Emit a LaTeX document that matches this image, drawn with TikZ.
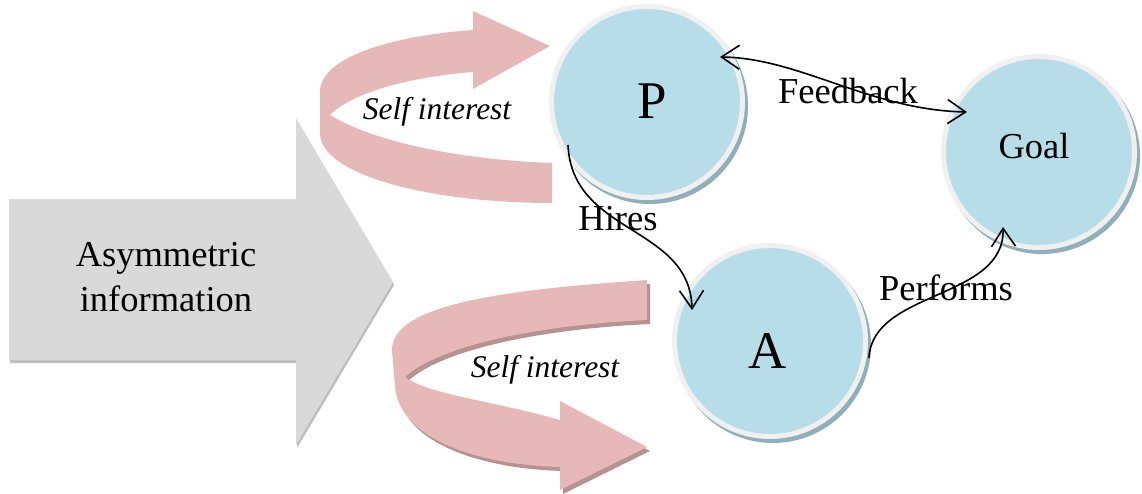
\documentclass[tikz,border=0pt]{standalone}
\usepackage{fontspec}
\setmainfont{Liberation Serif}
\usetikzlibrary{arrows.meta,calc}
\definecolor{ballblue}{HTML}{B7DDE8}
\definecolor{ballrim}{HTML}{F0F0F0}
\definecolor{ballshade}{HTML}{8FB0B9}
\definecolor{ribbon}{HTML}{E6B9B8}
\definecolor{ribbonshade}{HTML}{B79291}
\definecolor{infogrey}{HTML}{D9D9D9}
\definecolor{infoshade}{HTML}{BDBDBD}

\begin{document}
\begin{tikzpicture}[x=1pt,y=-1pt,
  ball/.style={circle, inner sep=0pt, minimum size=191pt, line width=5pt,
    draw=ballrim, fill=ballblue,
    preaction={draw=ballshade, fill=ballshade,
      transform canvas={xshift=3pt,yshift=-4pt}}},
  word/.style={font=\fontsize{36.5}{45}\selectfont, inner sep=0pt, anchor=base},
  letter/.style={font=\fontsize{53}{60}\selectfont, inner sep=0pt, anchor=base},
  motive/.style={font=\fontsize{31.5}{36}\selectfont\itshape, inner sep=0pt, anchor=base},
  barb/.tip={Straight Barb[length=18pt,width=24pt]},
  link/.style={line width=1.6pt, barb-barb},
  onelink/.style={line width=1.6pt, -barb}
]
\useasboundingbox (0,0) rectangle (1142,493);

% big grey block arrow
\fill[infoshade] (10,202) -- (297,202) -- (297,121) -- (394,285) -- (297,448)
  -- (297,363) -- (10,363) -- cycle;
\fill[infogrey] (9,199) -- (296,199) -- (296,118) -- (393,282) -- (296,445)
  -- (296,360) -- (9,360) -- cycle;
\node[font=\fontsize{36.5}{45}\selectfont, align=center, inner sep=0pt]
  (info) at (166,277) {Asymmetric\\information};

% upper U-turn ribbon (turns back to the right, towards P)
\fill[ribbon] (473,30) -- (473,11) -- (550,46) -- (473,89) -- (473,72)
  .. controls (400,78) and (350,95) .. (330,115)
  .. controls (380,145) and (470,160) .. (552,163)
  -- (552,203)
  .. controls (430,203) and (320,175) .. (320,133)
  -- (320,92)
  .. controls (320,55) and (400,35) .. (473,30) -- cycle;
\node[motive] (selfP) at (437,119) {Self interest};

% lower U-turn ribbon (turns back to the right, towards A)
\fill[ribbon, preaction={fill=ribbonshade, transform canvas={xshift=3pt,yshift=-4pt}}]
  (647,280) -- (647,320)
  .. controls (540,325) and (440,345) .. (405,377)
  .. controls (430,395) and (490,400) .. (560,420)
  -- (560,401) -- (647,447) -- (560,490) -- (560,467)
  .. controls (480,465) and (400,440) .. (395,387)
  -- (392,350)
  .. controls (392,305) and (500,290) .. (647,280) -- cycle;
\node[motive] (selfA) at (545,377) {Self interest};

% principal, agent and goal
\node[ball] (P) at (647,102) {};
\node[ball] (A) at (770,341) {};
\node[ball] (Goal) at (1039,152) {};
\node[letter] (Pname) at (652,118) {P};
\node[letter] (Aname) at (768,368) {A};
\node[word] (Goalname) at (1034,158) {Goal};

% relations
\draw[link] ($(P)+(73,-45)$) .. controls +(80,1) and +(-97,-2) .. ($(Goal)+(-72,-40)$);
\draw[onelink] ($(P)+(-79,43)$) .. controls +(4,90) and +(-2,-85) .. ($(A)+(-78,-31)$);
\draw[onelink] ($(A)+(99,17)$) .. controls +(3,-68) and +(2,73) .. ($(Goal)+(-36,75)$);

\node[word] (feedback) at (848,103) {Feedback};
\node[word] (hires) at (618,230) {Hires};
\node[word] (performs) at (946,300) {Performs};
\end{tikzpicture}
\end{document}
